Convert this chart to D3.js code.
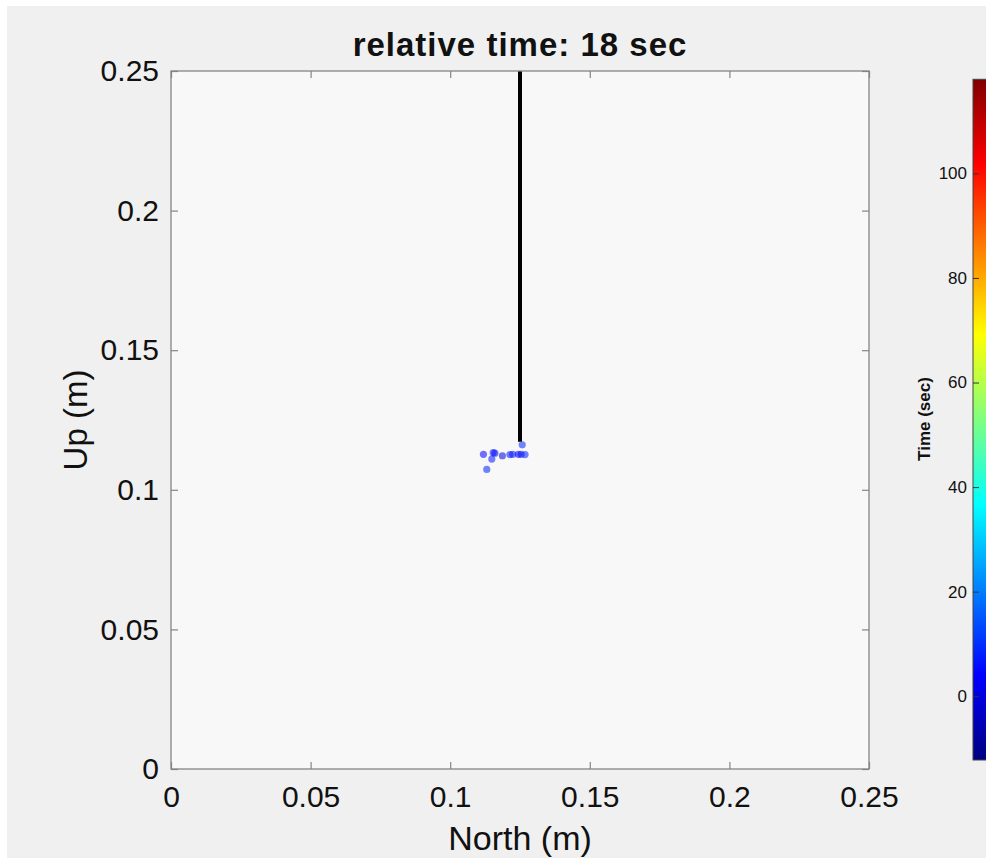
<!DOCTYPE html>
<meta charset="utf-8">
<title>relative time: 18 sec</title>
<script src="https://d3js.org/d3.v7.min.js"></script>
<style>
body { margin: 0; background: #fff; }
text { font-family: "Liberation Sans", Arial, Helvetica, sans-serif; fill: #111; }
</style>
<body>
<div id="chart"></div>
<script>
// trail points (North, Up) and the time each was recorded
var north = [0.1119, 0.1154, 0.1160, 0.1149, 0.1131, 0.1187, 0.1214, 0.1224, 0.1244, 0.1254, 0.1268, 0.1258];
var up    = [0.1127, 0.1133, 0.1131, 0.1110, 0.1073, 0.1122, 0.1126, 0.1127, 0.1127, 0.1127, 0.1126, 0.1161];
var times = [4, 6, 5, 7, 8, 0, 6, 7, 3, 5, 8, 9];

// the hanging line
var lineNorth = [0.125, 0.125];
var lineUp    = [0.25, 0.1172];

var axisTicks = [0, 0.05, 0.1, 0.15, 0.2, 0.25];
var barTicks  = [0, 20, 40, 60, 80, 100];
var barDomain = [-12.2, 118];

var W = 986, H = 858;
var plot = {left: 171, top: 71, size: 698};

var svg = d3.select("#chart").append("svg")
    .attr("width", W)
    .attr("height", H);

// figure background
svg.append("rect")
    .attr("x", 7).attr("y", 6)
    .attr("width", W - 7).attr("height", H - 6)
    .attr("fill", "#f0f0f0");

var x = d3.scaleLinear().domain([0, 0.25]).range([plot.left, plot.left + plot.size]);
var y = d3.scaleLinear().domain([0, 0.25]).range([plot.top + plot.size, plot.top]);

// jet colormap
var jet = d3.scaleLinear()
    .domain([0, 0.125, 0.375, 0.625, 0.875, 1])
    .range(["#000080", "#0000ff", "#00ffff", "#ffff00", "#ff0000", "#800000"])
    .clamp(true);
var toUnit = d3.scaleLinear().domain(barDomain).range([0, 1]);
var color = function(t) { return jet(toUnit(t)); };

// axes background
svg.append("rect")
    .attr("x", plot.left).attr("y", plot.top)
    .attr("width", plot.size).attr("height", plot.size)
    .attr("fill", "#f8f8f8");

// line
var line = d3.line()
    .x(function(d) { return x(d[0]); })
    .y(function(d) { return y(d[1]); });
svg.append("path")
    .datum(d3.zip(lineNorth, lineUp))
    .attr("d", line)
    .attr("fill", "none")
    .attr("stroke", "#000")
    .attr("stroke-width", 4);

// points
svg.append("g")
  .selectAll("circle")
  .data(d3.range(north.length))
  .enter()
  .append("circle")
    .attr("cx", function(i) { return x(north[i]); })
    .attr("cy", function(i) { return y(up[i]); })
    .attr("r", 3.6)
    .attr("fill", function(i) { return color(times[i]); })
    .attr("fill-opacity", 0.55);

// axes with inward ticks on all four sides
var tickLen = 7;
var axisColor = "#858585";
function styleAxis(g) {
  g.select(".domain").remove();
  g.selectAll(".tick line").attr("stroke", axisColor).attr("stroke-width", 1.2);
  g.selectAll(".tick text").style("font-size", "30px").attr("fill", "#111");
}
svg.append("g")
    .attr("transform", "translate(0," + (plot.top + plot.size) + ")")
    .call(d3.axisBottom(x).tickValues(axisTicks).tickSizeInner(-tickLen).tickSizeOuter(0).tickPadding(16).tickFormat(d3.format("")))
    .call(styleAxis)
    .selectAll(".tick text").attr("dy", "0.72em");
svg.append("g")
    .attr("transform", "translate(0," + plot.top + ")")
    .call(d3.axisTop(x).tickValues(axisTicks).tickSizeInner(-tickLen).tickSizeOuter(0).tickFormat(""))
    .call(styleAxis);
svg.append("g")
    .attr("transform", "translate(" + plot.left + ",0)")
    .call(d3.axisLeft(y).tickValues(axisTicks).tickSizeInner(-tickLen).tickSizeOuter(0).tickPadding(12).tickFormat(d3.format("")))
    .call(styleAxis);
svg.append("g")
    .attr("transform", "translate(" + (plot.left + plot.size) + ",0)")
    .call(d3.axisRight(y).tickValues(axisTicks).tickSizeInner(-tickLen).tickSizeOuter(0).tickFormat(""))
    .call(styleAxis);

// box
svg.append("rect")
    .attr("x", plot.left).attr("y", plot.top)
    .attr("width", plot.size).attr("height", plot.size)
    .attr("fill", "none")
    .attr("stroke", axisColor)
    .attr("stroke-width", 1.3);

// labels
svg.append("text")
    .attr("x", x(0.125)).attr("y", 56)
    .attr("text-anchor", "middle")
    .style("font-size", "33px").style("font-weight", "bold")
    .style("letter-spacing", "1px")
    .text("relative time: 18 sec");
svg.append("text")
    .attr("x", x(0.125)).attr("y", 850)
    .attr("text-anchor", "middle")
    .style("font-size", "34px")
    .text("North (m)");
svg.append("text")
    .attr("transform", "translate(87," + y(0.125) + ") rotate(-90)")
    .attr("text-anchor", "middle")
    .style("font-size", "33px")
    .text("Up (m)");

// colorbar
var bar = {left: 973, top: 79.3, bottom: 760, width: 24};
var cy = d3.scaleLinear().domain(barDomain).range([bar.bottom, bar.top]);

var grad = svg.append("defs").append("linearGradient")
    .attr("id", "jetgrad")
    .attr("x1", 0).attr("y1", 1).attr("x2", 0).attr("y2", 0);
grad.selectAll("stop")
  .data(d3.range(0, 1.0001, 1 / 64))
  .enter()
  .append("stop")
    .attr("offset", function(d) { return d; })
    .attr("stop-color", function(d) { return jet(d); });

svg.append("rect")
    .attr("x", bar.left).attr("y", bar.top)
    .attr("width", bar.width).attr("height", bar.bottom - bar.top)
    .attr("fill", "url(#jetgrad)")
    .attr("stroke", "#444")
    .attr("stroke-width", 1);

var barAxis = svg.append("g")
    .attr("transform", "translate(" + bar.left + ",0)")
    .call(d3.axisLeft(cy).tickValues(barTicks).tickSizeInner(-6).tickSizeOuter(0).tickPadding(6));
barAxis.select(".domain").remove();
barAxis.selectAll(".tick line").attr("stroke", "#333");
barAxis.selectAll(".tick text").style("font-size", "17px").attr("fill", "#111");

svg.append("text")
    .attr("transform", "translate(930," + 419 + ") rotate(-90)")
    .attr("text-anchor", "middle")
    .style("font-size", "17px").style("font-weight", "bold")
    .text("Time (sec)");
</script>
</body>
